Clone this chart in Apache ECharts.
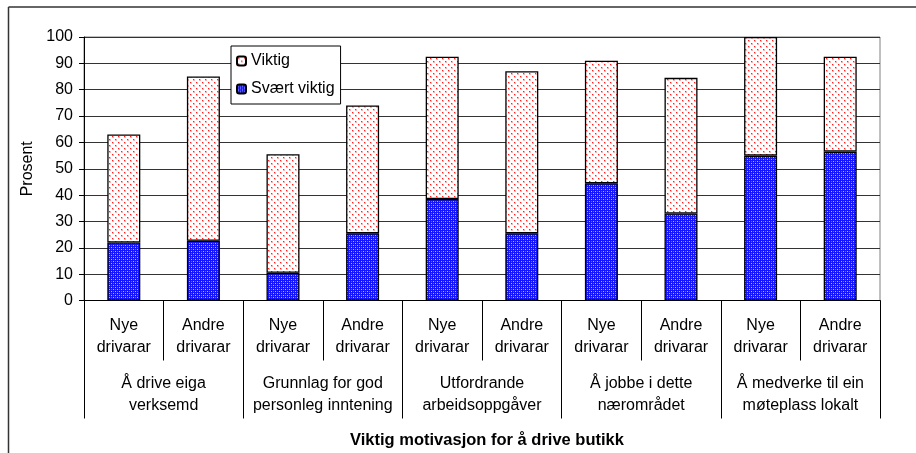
<!DOCTYPE html>
<html>
<head>
<meta charset="utf-8">
<script src="https://cdn.jsdelivr.net/npm/echarts@6/dist/echarts.min.js"></script>
<style>
  html, body { margin: 0; padding: 0; background: #fff; }
  #chart { width: 916px; height: 453px; }
</style>
</head>
<body>
<div id="chart"></div>
<script>
// data
const subLabels = ['Nye\ndrivarar', 'Andre\ndrivarar', 'Nye\ndrivarar', 'Andre\ndrivarar', 'Nye\ndrivarar',
    'Andre\ndrivarar', 'Nye\ndrivarar', 'Andre\ndrivarar', 'Nye\ndrivarar', 'Andre\ndrivarar']
const groupLabels = ['Å drive eiga\nverksemd', 'Grunnlag for god\npersonleg inntening', 'Utfordrande\narbeidsoppgåver',
    'Å jobbe i dette\nnærområdet', 'Å medverke til ein\nmøteplass lokalt']
const svaertViktig = [22, 22.7, 10.5, 25.5, 38.5, 25.5, 44.5, 33, 55, 56.5]
const viktig = [41, 62.3, 45, 48.5, 54, 61.5, 46.5, 51.5, 45, 36]

const font = "'Liberation Sans', Arial, sans-serif"

// small fill patterns like the excel ones
function dotPattern() {
    let c = document.createElement('canvas')
    c.width = 6; c.height = 6
    let ctx = c.getContext('2d')
    ctx.fillStyle = '#fff'
    ctx.fillRect(0, 0, 6, 6)
    ctx.fillStyle = '#ffb0b0'
    ctx.fillRect(1, 1, 2, 2)
    ctx.fillRect(4, 4, 2, 2)
    ctx.fillStyle = '#ff2020'
    ctx.fillRect(1, 1, 1, 1)
    ctx.fillRect(4, 4, 1, 1)
    return c
}
function blueGrid() {
    let c = document.createElement('canvas')
    c.width = 4; c.height = 4
    let ctx = c.getContext('2d')
    ctx.fillStyle = '#1414ff'
    ctx.fillRect(0, 0, 4, 4)
    ctx.fillStyle = '#b0b0ff'
    ctx.fillRect(1, 1, 1, 1)
    ctx.fillRect(3, 3, 1, 1)
    ctx.fillStyle = '#6060ff'
    ctx.fillRect(1, 3, 1, 1)
    ctx.fillRect(3, 1, 1, 1)
    return c
}

const myChart = echarts.init(document.getElementById('chart'))
let option = {
    animation: false,
    textStyle: { fontFamily: font },
    title: {
        text: 'Viktig motivasjon for å drive butikk',
        left: 482,
        top: 427,
        textAlign: 'center',
        textStyle: { fontFamily: font, fontSize: 16.5, fontWeight: 'bold', color: '#000' }
    },
    legend: {
        data: ['Viktig', 'Svært viktig'],
        orient: 'vertical',
        left: 231,
        top: 46,
        padding: [7, 6, 7, 5],
        itemWidth: 9,
        itemHeight: 9,
        itemGap: 12,
        backgroundColor: '#fff',
        borderColor: '#000',
        borderWidth: 1,
        borderRadius: 0,
        textStyle: { fontFamily: font, fontSize: 16, color: '#000' }
    },
    grid: {
        left: 84,
        right: 36,
        top: 37,
        bottom: 152.5,
        show: true,
        borderColor: '#808080',
        borderWidth: 1
    },
    graphic: [
        { type: 'line', shape: { x1: 8.5, y1: 7, x2: 916, y2: 7 }, style: { stroke: '#333', lineWidth: 1.5 } },
        { type: 'line', shape: { x1: 8.5, y1: 7, x2: 8.5, y2: 453 }, style: { stroke: '#333', lineWidth: 1.5 } }
    ],
    xAxis: [{
        type: 'category',
        data: subLabels,
        position: 'bottom',
        axisLine: { lineStyle: { color: '#000', width: 1 } },
        axisTick: { show: true, interval: 0, length: 60, lineStyle: { color: '#000' } },
        axisLabel: { interval: 0, margin: 14, fontSize: 16, lineHeight: 22, color: '#000', fontFamily: font }
    }, {
        type: 'category',
        data: groupLabels,
        position: 'bottom',
        axisLine: { show: false },
        axisTick: { show: true, interval: 0, length: 118, lineStyle: { color: '#000' } },
        axisLabel: { interval: 0, margin: 72, fontSize: 16, lineHeight: 22, color: '#000', fontFamily: font }
    }],
    yAxis: {
        type: 'value',
        min: 0,
        max: 100,
        interval: 10,
        name: 'Prosent',
        nameLocation: 'middle',
        nameRotate: 90,
        nameGap: 43,
        nameTextStyle: { fontFamily: font, fontSize: 16, color: '#000' },
        axisLine: { show: true, lineStyle: { color: '#000' } },
        axisTick: { show: true, length: 5, lineStyle: { color: '#000' } },
        axisLabel: { fontSize: 16, color: '#000', margin: 11, fontFamily: font },
        splitLine: { lineStyle: { color: '#333', width: 1 } }
    },
    series: [{
        name: 'Svært viktig',
        type: 'bar',
        stack: 'tot',
        data: svaertViktig,
        barWidth: 33,
        itemStyle: { color: { image: blueGrid(), repeat: 'repeat' }, borderColor: '#000', borderWidth: 1.3 }
    }, {
        name: 'Viktig',
        type: 'bar',
        stack: 'tot',
        data: viktig,
        barWidth: 33,
        itemStyle: { color: { image: dotPattern(), repeat: 'repeat' }, borderColor: '#000', borderWidth: 1.3 }
    }]
}
myChart.setOption(option)
</script>
</body>
</html>
